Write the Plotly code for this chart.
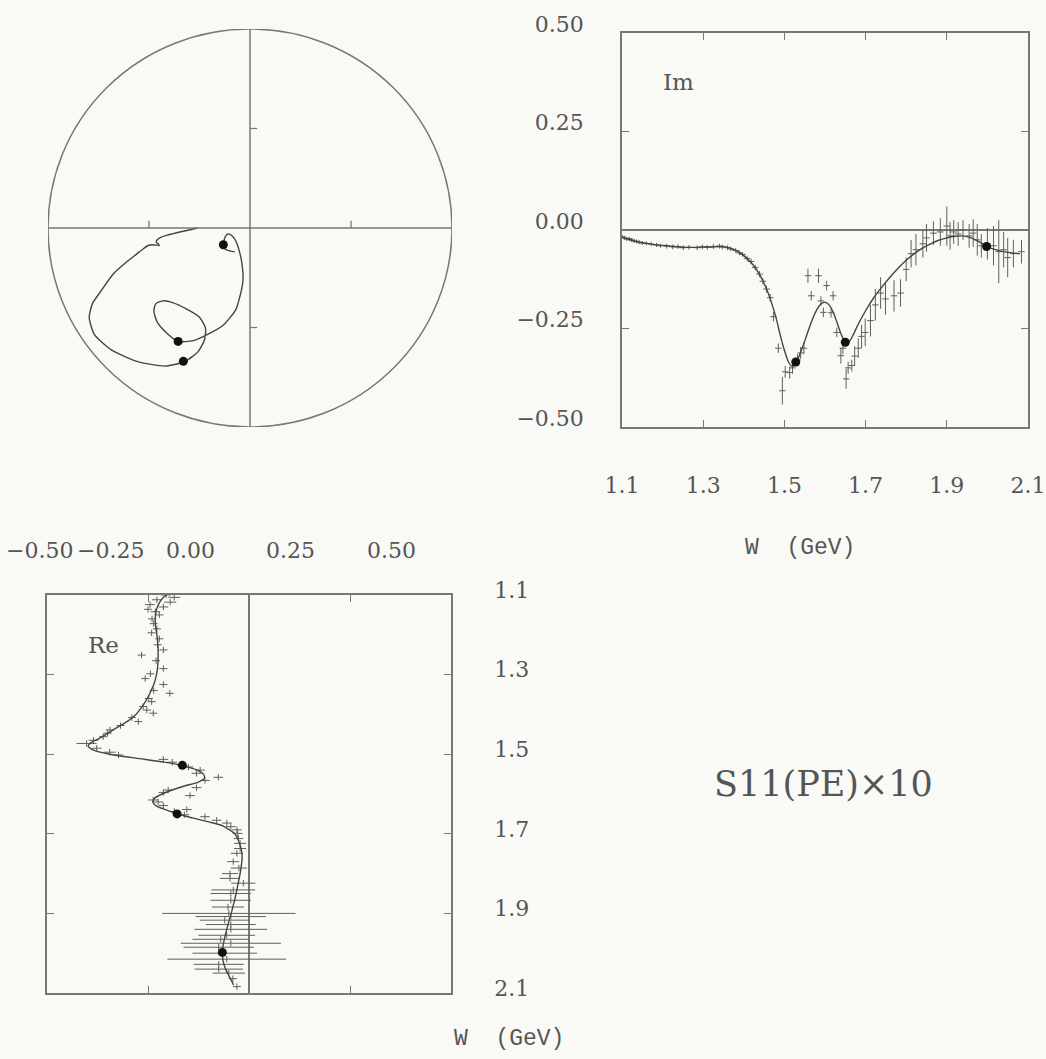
import plotly.graph_objects as go

# ---------------- fitted amplitude (solid curve) ----------------
w_fit = [1.08, 1.10, 1.12, 1.14, 1.16, 1.18, 1.20, 1.22, 1.24, 1.26, 1.28, 1.30,
         1.32, 1.34, 1.36, 1.38, 1.40, 1.42, 1.44, 1.46, 1.47, 1.48, 1.49, 1.50,
         1.51, 1.52, 1.53, 1.54, 1.55, 1.56, 1.57, 1.58, 1.59, 1.60, 1.61, 1.62,
         1.63, 1.64, 1.65, 1.66, 1.67, 1.68, 1.70, 1.72, 1.74, 1.76, 1.78, 1.80,
         1.82, 1.84, 1.86, 1.88, 1.90, 1.92, 1.94, 1.96, 1.98, 2.00, 2.02, 2.04,
         2.06, 2.08]
im_fit = [0.000, -0.018, -0.024, -0.030, -0.034, -0.037, -0.039, -0.041, -0.043, -0.044,
          -0.044, -0.043, -0.043, -0.042, -0.044, -0.052, -0.065, -0.085, -0.115, -0.160,
          -0.190, -0.225, -0.268, -0.305, -0.335, -0.347, -0.335, -0.310, -0.282, -0.252,
          -0.224, -0.202, -0.188, -0.183, -0.190, -0.208, -0.236, -0.265, -0.285, -0.283,
          -0.265, -0.243, -0.205, -0.172, -0.145, -0.120, -0.097, -0.077, -0.060, -0.046,
          -0.035, -0.026, -0.020, -0.016, -0.015, -0.020, -0.030, -0.042, -0.050, -0.055,
          -0.058, -0.060]
re_fit = [-0.130, -0.205, -0.222, -0.230, -0.232, -0.231, -0.228, -0.226, -0.225, -0.225,
          -0.226, -0.229, -0.234, -0.242, -0.252, -0.264, -0.280, -0.305, -0.338, -0.370,
          -0.390, -0.398, -0.385, -0.345, -0.280, -0.210, -0.160, -0.128, -0.113, -0.110,
          -0.125, -0.160, -0.190, -0.215, -0.233, -0.238, -0.230, -0.205, -0.178, -0.140,
          -0.100, -0.065, -0.035, -0.025, -0.019, -0.017, -0.019, -0.022, -0.026, -0.030,
          -0.034, -0.039, -0.044, -0.050, -0.055, -0.060, -0.064, -0.066, -0.064, -0.058,
          -0.048, -0.038]

# ---------------- resonance positions (filled dots) ----------------
w_dot = [1.528, 1.650, 1.998]
im_dot = [-0.335, -0.285, -0.042]
re_dot = [-0.165, -0.178, -0.066]

# ---------------- single-energy solutions with errors ----------------
w_pts = [1.100, 1.106, 1.112, 1.118, 1.124, 1.130, 1.136, 1.142, 1.150, 1.160,
         1.172, 1.185, 1.195, 1.210, 1.225, 1.238, 1.251, 1.265, 1.285, 1.298,
         1.310, 1.325, 1.340, 1.347, 1.360, 1.368, 1.380, 1.389, 1.397, 1.408,
         1.418, 1.428, 1.439, 1.447, 1.456, 1.465, 1.473, 1.485, 1.495, 1.502,
         1.513, 1.520, 1.532, 1.540, 1.548, 1.558, 1.566, 1.584, 1.590, 1.596,
         1.604, 1.615, 1.620, 1.629, 1.639, 1.644, 1.652, 1.657, 1.666, 1.673,
         1.682, 1.690, 1.699, 1.712, 1.724, 1.737, 1.749, 1.770, 1.786, 1.800,
         1.812, 1.824, 1.841, 1.850, 1.867, 1.884, 1.900, 1.908, 1.917, 1.928,
         1.940, 1.955, 1.965, 1.975, 1.985, 2.000, 2.015, 2.028, 2.040, 2.050,
         2.064, 2.084]
im_pts = [-0.017, -0.020, -0.023, -0.022, -0.026, -0.028, -0.029, -0.031, -0.033, -0.034,
          -0.036, -0.038, -0.040, -0.041, -0.043, -0.042, -0.045, -0.044, -0.045, -0.043,
          -0.044, -0.042, -0.041, -0.043, -0.045, -0.048, -0.052, -0.058, -0.062, -0.072,
          -0.080, -0.095, -0.112, -0.130, -0.150, -0.172, -0.220, -0.300, -0.408, -0.360,
          -0.362, -0.350, -0.330, -0.312, -0.300, -0.116, -0.167, -0.116, -0.180, -0.209,
          -0.141, -0.210, -0.167, -0.260, -0.319, -0.300, -0.378, -0.350, -0.344, -0.320,
          -0.300, -0.270, -0.260, -0.230, -0.190, -0.160, -0.175, -0.167, -0.160, -0.100,
          -0.060, -0.050, -0.035, -0.020, -0.008, -0.005, 0.010, -0.015, -0.005, -0.010,
          0.000, -0.015, -0.008, -0.025, -0.040, -0.035, -0.040, -0.055, -0.050, -0.070,
          -0.060, -0.055]
im_err = [0.005, 0.005, 0.005, 0.005, 0.005, 0.005, 0.005, 0.005, 0.005, 0.005,
          0.005, 0.005, 0.005, 0.006, 0.006, 0.006, 0.006, 0.006, 0.006, 0.006,
          0.006, 0.006, 0.006, 0.006, 0.006, 0.006, 0.006, 0.006, 0.006, 0.007,
          0.007, 0.007, 0.008, 0.008, 0.009, 0.010, 0.012, 0.012, 0.035, 0.015,
          0.015, 0.015, 0.015, 0.015, 0.015, 0.018, 0.012, 0.018, 0.012, 0.012,
          0.012, 0.012, 0.012, 0.012, 0.020, 0.015, 0.025, 0.015, 0.015, 0.025,
          0.025, 0.030, 0.035, 0.040, 0.040, 0.040, 0.040, 0.040, 0.035, 0.030,
          0.035, 0.040, 0.035, 0.035, 0.030, 0.035, 0.050, 0.035, 0.030, 0.030,
          0.025, 0.030, 0.035, 0.040, 0.030, 0.040, 0.050, 0.080, 0.045, 0.050,
          0.035, 0.030]
re_pts = [-0.205, -0.185, -0.228, -0.195, -0.245, -0.212, -0.250, -0.232, -0.222, -0.240,
          -0.236, -0.228, -0.241, -0.222, -0.226, -0.212, -0.266, -0.230, -0.212, -0.244,
          -0.257, -0.212, -0.236, -0.196, -0.248, -0.241, -0.262, -0.253, -0.237, -0.290,
          -0.274, -0.318, -0.344, -0.350, -0.361, -0.385, -0.402, -0.377, -0.345, -0.323,
          -0.212, -0.190, -0.150, -0.121, -0.130, -0.076, -0.109, -0.130, -0.200, -0.212,
          -0.146, -0.237, -0.225, -0.212, -0.154, -0.185, -0.160, -0.109, -0.080, -0.055,
          -0.045, -0.030, -0.028, -0.026, -0.022, -0.022, -0.030, -0.039, -0.025, -0.047,
          -0.047, -0.014, -0.039, -0.045, -0.045, -0.052, -0.050, -0.045, -0.060, -0.045,
          -0.045, -0.055, -0.070, -0.045, -0.075, -0.060, -0.055, -0.075, -0.075, -0.050,
          -0.040, -0.030]
re_err = [0.012, 0.015, 0.012, 0.015, 0.012, 0.012, 0.010, 0.012, 0.010, 0.010,
          0.010, 0.010, 0.010, 0.010, 0.010, 0.010, 0.010, 0.010, 0.010, 0.010,
          0.010, 0.010, 0.010, 0.010, 0.010, 0.010, 0.010, 0.010, 0.010, 0.010,
          0.010, 0.010, 0.010, 0.010, 0.010, 0.012, 0.025, 0.012, 0.015, 0.012,
          0.012, 0.012, 0.012, 0.012, 0.012, 0.012, 0.012, 0.012, 0.012, 0.012,
          0.012, 0.012, 0.012, 0.012, 0.012, 0.012, 0.012, 0.012, 0.012, 0.012,
          0.012, 0.012, 0.012, 0.012, 0.015, 0.015, 0.015, 0.015, 0.020, 0.020,
          0.025, 0.030, 0.054, 0.050, 0.050, 0.040, 0.165, 0.087, 0.062, 0.062,
          0.090, 0.070, 0.070, 0.124, 0.087, 0.080, 0.147, 0.062, 0.060, 0.040,
          0.010, 0.010]
W_HALF_BIN = 0.008

# tick values / labels
amp_ticks = [-0.5, -0.25, 0.0, 0.25, 0.5]
amp_text = ["\u22120.50", "\u22120.25", "0.00", "0.25", "0.50"]
w_ticks = [1.1, 1.3, 1.5, 1.7, 1.9, 2.1]
w_text = ["1.1", "1.3", "1.5", "1.7", "1.9", "2.1"]

# ---------------- styling ----------------
W_PX, H_PX = 1046, 1059
BG = "#f9f9f5"
INK = "#444444"
FRAME = "#777777"
ERR = "#5e605a"
TXT = "#555555"
SERIF = "DejaVu Serif"
MONO = "Liberation Mono"
# horizontal offsets (px) of the top tick labels of the Re panel
RE_LABEL_SHIFT = [-8, -38, -59, -60, -60]


def dom_x(a, b):
    return [a / W_PX, b / W_PX]


def dom_y(top, bottom):
    return [1 - bottom / H_PX, 1 - top / H_PX]


fig = go.Figure()

curve = dict(color=INK, width=1.4, shape="spline", smoothing=0.6)
dot = dict(color="#111111", size=9)

# Argand diagram
fig.add_trace(go.Scatter(x=re_fit, y=im_fit, mode="lines", xaxis="x", yaxis="y", line=curve))
fig.add_trace(go.Scatter(x=re_dot, y=im_dot, mode="markers", xaxis="x", yaxis="y", marker=dot))

# Imaginary part vs W
fig.add_trace(go.Scatter(x=w_pts, y=im_pts, mode="markers", xaxis="x2", yaxis="y2",
                         marker=dict(size=0.1, color=ERR),
                         error_y=dict(type="data", array=im_err, width=0, thickness=1, color=ERR),
                         error_x=dict(type="constant", value=W_HALF_BIN, width=0, thickness=1, color=ERR)))
fig.add_trace(go.Scatter(x=w_fit, y=im_fit, mode="lines", xaxis="x2", yaxis="y2", line=curve))
fig.add_trace(go.Scatter(x=w_dot, y=im_dot, mode="markers", xaxis="x2", yaxis="y2", marker=dot))

# Real part vs W (rotated: W runs downward)
fig.add_trace(go.Scatter(x=re_pts, y=w_pts, mode="markers", xaxis="x3", yaxis="y3",
                         marker=dict(size=0.1, color=ERR),
                         error_x=dict(type="data", array=re_err, width=0, thickness=1, color=ERR),
                         error_y=dict(type="constant", value=W_HALF_BIN, width=0, thickness=1, color=ERR)))
fig.add_trace(go.Scatter(x=re_fit, y=w_fit, mode="lines", xaxis="x3", yaxis="y3", line=curve))
fig.add_trace(go.Scatter(x=re_dot, y=w_dot, mode="markers", xaxis="x3", yaxis="y3", marker=dot))

tickfont = dict(family=SERIF, size=22, color=TXT)
boxed = dict(showline=True, linecolor=FRAME, linewidth=1.5, mirror="ticks",
             ticks="inside", ticklen=7, tickcolor=FRAME, tickwidth=1.3,
             showgrid=False, tickfont=tickfont, automargin=False)

shapes = [
    dict(type="circle", xref="x", yref="y", x0=-0.5, x1=0.5, y0=-0.5, y1=0.5,
         line=dict(color=FRAME, width=1.5)),
    dict(type="line", xref="x", yref="y", x0=-0.5, x1=0.5, y0=0, y1=0,
         line=dict(color=FRAME, width=1.5)),
    dict(type="line", xref="x", yref="y", x0=0, x1=0, y0=-0.5, y1=0.5,
         line=dict(color=FRAME, width=1.5)),
]
for t in (-0.25, 0.25):
    shapes.append(dict(type="line", xref="x", yref="y", x0=t, x1=t, y0=0, y1=0.018,
                       line=dict(color=FRAME, width=1.3)))
    shapes.append(dict(type="line", xref="x", yref="y", x0=0, x1=0.018, y0=t, y1=t,
                       line=dict(color=FRAME, width=1.3)))


def px_note(text, x, y, family, size):
    return dict(text=text, x=x / W_PX, y=1 - y / H_PX, xref="paper", yref="paper",
                showarrow=False, font=dict(family=family, size=size, color=TXT),
                xanchor="center", yanchor="middle")


annotations = [
    px_note("Im", 678, 82, SERIF, 23),
    px_note("Re", 103, 645, SERIF, 23),
    px_note("W  (GeV)", 800, 548, MONO, 23),
    px_note("W  (GeV)", 509, 1039, MONO, 23),
    px_note("S11(PE)\u00d710", 823, 784, SERIF, 35),
]
# top tick labels of the Re panel, placed on the x3 scale
for val, lab, dx in zip(amp_ticks, amp_text, RE_LABEL_SHIFT):
    annotations.append(dict(text=lab, x=val, xref="x3", y=1 - 550 / H_PX, yref="paper",
                            xshift=dx, showarrow=False, font=tickfont,
                            xanchor="center", yanchor="middle"))

fig.update_layout(
    width=W_PX, height=H_PX,
    margin=dict(l=0, r=0, t=0, b=0, autoexpand=False),
    paper_bgcolor=BG, plot_bgcolor=BG,
    showlegend=False,
    shapes=shapes,
    annotations=annotations,
    xaxis=dict(domain=dom_x(48, 452), range=[-0.5, 0.5], visible=False, anchor="y"),
    yaxis=dict(domain=dom_y(29, 427), range=[-0.5, 0.5], visible=False, anchor="x"),
    xaxis2=dict(domain=dom_x(622, 1028), range=[1.1, 2.1], anchor="y2",
                tickvals=w_ticks, ticktext=w_text, ticklabelstandoff=38,
                zeroline=False, **boxed),
    yaxis2=dict(domain=dom_y(33, 427), range=[-0.5, 0.5], anchor="x2",
                tickvals=amp_ticks, ticktext=amp_text, ticklabelstandoff=32,
                ticklabelshift=-9, zeroline=True, zerolinecolor=FRAME, zerolinewidth=1.5,
                **boxed),
    xaxis3=dict(domain=dom_x(47, 451), range=[-0.5, 0.5], anchor="y3", side="top",
                tickvals=amp_ticks, showticklabels=False,
                zeroline=True, zerolinecolor=FRAME, zerolinewidth=1.5, **boxed),
    yaxis3=dict(domain=dom_y(595, 993), range=[2.1, 1.1], anchor="x3", side="right",
                tickvals=w_ticks, ticktext=w_text, ticklabelstandoff=37,
                ticklabelshift=5, zeroline=False, **boxed),
)

fig.write_html("out.html")
